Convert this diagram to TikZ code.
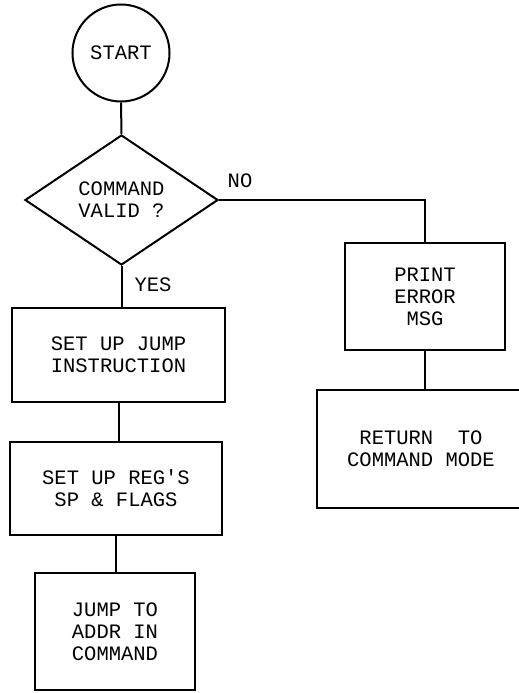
\documentclass[tikz,border=0pt]{standalone}
\usepackage{fontspec}
\setmonofont{Liberation Mono}
\usetikzlibrary{shapes.geometric}
\tikzset{
  every node/.style={font=\ttfamily\fontsize{20.5}{22}\selectfont, align=center, inner sep=0pt},
  box/.style={draw, rectangle, line width=2pt},
  conn/.style={line width=2pt},
}
\begin{document}
\begin{tikzpicture}[x=1pt,y=-1pt]
\useasboundingbox (0,0) rectangle (519,693);
\node[draw, circle, line width=2pt, minimum size=97pt] (start) at (121,53) {START};
\node[draw, diamond, line width=2pt, minimum width=193pt, minimum height=130pt] (dec) at (121.5,200) {COMMAND\\VALID ?};
\node[box, minimum width=213pt, minimum height=94pt] (jump) at (118.5,355) {SET UP JUMP\\INSTRUCTION};
\node[box, minimum width=212pt, minimum height=93pt] (regs) at (116,488.5) {SET UP REG'S\\SP \& FLAGS};
\node[box, minimum width=160pt, minimum height=117pt] (addr) at (115,631.5) {JUMP TO\\ADDR IN\\COMMAND};
\node[box, minimum width=160pt, minimum height=107pt] (print) at (425,296.5) {PRINT\\ERROR\\MSG};
\node[box, minimum width=208pt, minimum height=118pt] (ret) at (421,449) {RETURN~~TO\\COMMAND MODE};
\node (no) at (240,181) {NO};
\node (yes) at (153,285) {YES};
\coordinate (corner) at (print.north |- dec.east);
\draw[conn] (start.south) -- (dec.north);
\draw[conn] (dec.south) -- (dec.south |- jump.north);
\draw[conn] (jump.south) -- (jump.south |- regs.north);
\draw[conn] (regs.south) -- (regs.south |- addr.north);
\draw[conn] (dec.east) -- (corner) -- (print.north);
\draw[conn] (print.south) -- (print.south |- ret.north);
\end{tikzpicture}
\end{document}
